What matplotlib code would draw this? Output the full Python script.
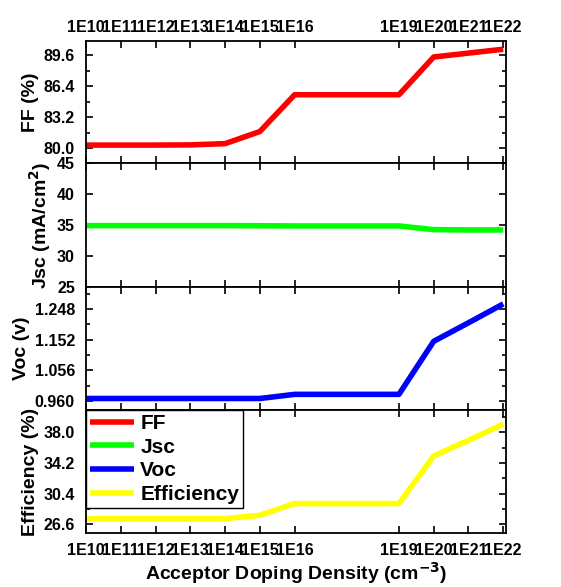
import matplotlib
matplotlib.use("Agg")
import matplotlib.pyplot as plt

plt.rcParams['font.family'] = ['Liberation Sans', 'DejaVu Sans']
plt.rcParams['font.weight'] = 'bold'

# data
doping = [1e10, 1e11, 1e12, 1e13, 1e14, 1e15, 1e16, 1e19, 1e20, 1e21, 1e22]
tick_labels = ["1E10", "1E11", "1E12", "1E13", "1E14", "1E15", "1E16",
               "1E19", "1E20", "1E21", "1E22"]
ff = [80.3, 80.3, 80.3, 80.32, 80.45, 81.7, 85.5, 85.5, 89.4, 89.8, 90.2]
jsc = [34.9, 34.9, 34.9, 34.9, 34.9, 34.88, 34.85, 34.85, 34.25, 34.2, 34.2]
voc = [0.968, 0.968, 0.968, 0.968, 0.968, 0.968, 0.981, 0.981, 1.147, 1.205, 1.264]
eff = [27.26, 27.26, 27.26, 27.26, 27.28, 27.7, 29.15, 29.15, 35.07, 37.0, 39.0]

fig = plt.figure(figsize=(5.61, 5.87), dpi=100)

W, H = 561, 587
left, right = 86, 506
panels = [(41, 163), (163, 287), (287, 410), (410, 533)]
axes = []
for top, bot in panels:
    ax = fig.add_axes([left / W, (H - bot) / H, (right - left) / W, (bot - top) / H])
    axes.append(ax)

series = [
    (ff, 'red', 'FF', 'FF (%)', (78.45, 91.05), [80.0, 83.2, 86.4, 89.6], "%.1f"),
    (jsc, '#00ff00', 'Jsc', 'Jsc (mA/cm$^{\\mathbf{2}}$)', (25, 45), [25, 30, 35, 40, 45], "%d"),
    (voc, 'blue', 'Voc', 'Voc (v)', (0.932, 1.317), [0.960, 1.056, 1.152, 1.248], "%.3f"),
    (eff, 'yellow', 'Efficiency', 'Efficiency (%)', (25.5, 40.76), [26.6, 30.4, 34.2, 38.0], "%.1f"),
]

lines = []
for ax, (vals, col, name, ylab, ylim, yt, fmt) in zip(axes, series):
    ln, = ax.plot(doping, vals, color=col, lw=4, label=name, solid_capstyle='butt')
    lines.append(ln)
    ax.set_xscale('log')
    ax.set_xlim(1e10, 1.2e22)
    ax.set_ylim(*ylim)
    ax.set_yticks(yt)
    ax.set_yticklabels([fmt % v for v in yt])
    ax.set_xticks(doping)
    ax.set_xticklabels(tick_labels)
    ax.minorticks_off()
    if name != 'Jsc':
        mids = [(a + b) / 2 for a, b in zip(yt[:-1], yt[1:])]
        step = yt[1] - yt[0]
        mids = [yt[0] - step / 2] + mids + [yt[-1] + step / 2]
        ax.set_yticks([m for m in mids if ylim[0] <= m <= ylim[1]], minor=True)
        ax.tick_params(axis='y', which='minor', direction='in', length=3, width=1.2,
                       left=True, right=True)
    ax.tick_params(axis='both', which='major', direction='in', length=5, width=1.2,
                   top=True, right=True, labelsize=11.5)
    ax.tick_params(axis='y', which='major', pad=8)
    ax.tick_params(axis='x', which='major', pad=7)
    ax.set_ylabel(ylab, fontsize=14, fontweight='bold', labelpad=3)
    for sp in ax.spines.values():
        sp.set_linewidth(1.3)
    for lab in ax.get_xticklabels() + ax.get_yticklabels():
        lab.set_fontweight('bold')

for ax in axes[1:3]:
    ax.tick_params(labelbottom=False)
axes[0].tick_params(labelbottom=False, labeltop=True)
axes[0].tick_params(axis='x', which='major', pad=4)

axes[3].set_xlabel('Acceptor Doping Density (cm$^{\\mathbf{-3}}$)', fontsize=14,
                   fontweight='bold', labelpad=2)

leg = axes[3].legend(handles=lines, loc='upper left', fancybox=False, framealpha=1,
                     edgecolor='black', borderaxespad=0,
                     prop={'weight': 'bold', 'size': 15}, handlelength=2.1,
                     labelspacing=0.22, borderpad=0.2, handletextpad=0.3)
leg.get_frame().set_linewidth(1.0)

fig.savefig('out.png', dpi=100)
